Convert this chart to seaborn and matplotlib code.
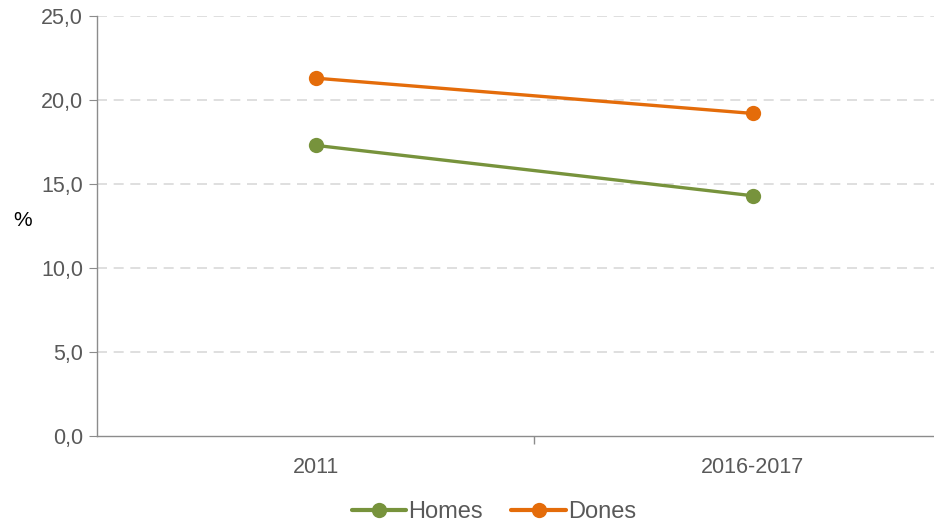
import matplotlib
matplotlib.use("Agg")
import matplotlib.pyplot as plt
import seaborn as sns
import pandas as pd

periodes = ["2011", "2016-2017"]
homes = [17.3, 14.3]
dones = [21.3, 19.2]
series = ["Homes", "Dones"]
colors = {"Homes": "#77933C", "Dones": "#E46C0A"}

df = pd.DataFrame({
    "periode": periodes * 2,
    "valor": homes + dones,
    "sexe": ["Homes"] * len(periodes) + ["Dones"] * len(periodes),
})

sns.set_style("white")
plt.rcParams["font.family"] = ["Liberation Sans", "DejaVu Sans"]

fig = plt.figure(figsize=(9.34, 5.23), dpi=100)
# the category axis runs past the right edge of the picture, like the original
ax = fig.add_axes([97 / 934, (523 - 436) / 523, 874.5 / 934, 420 / 523])

sns.lineplot(data=df, x="periode", y="valor", hue="sexe", hue_order=series,
             palette=colors, marker="o", markersize=11, markeredgewidth=0,
             linewidth=2.4, ax=ax, legend=False)

ax.set_xlim(-0.5, 1.5)
ax.set_ylim(0, 25)
ax.set_yticks([0, 5, 10, 15, 20, 25])
ax.set_yticklabels([f"{v:.1f}".replace(".", ",") for v in [0, 5, 10, 15, 20, 25]])
ax.set_xticks([0, 1])
ax.set_xticklabels(periodes)
ax.set_xticks([0.5], minor=True)

for y in [5, 10, 15, 20, 25]:
    ax.axhline(y, color="#D9D9D9", linestyle=(0, (6, 4)), linewidth=1.2, zorder=0)

for s in ["top", "right"]:
    ax.spines[s].set_visible(False)
for s in ["left", "bottom"]:
    ax.spines[s].set_color("#8C8C8C")
    ax.spines[s].set_linewidth(1.0)

ax.tick_params(axis="y", which="major", left=True, length=6, color="#8C8C8C",
               labelsize=15.5, labelcolor="#595959", pad=4)
ax.tick_params(axis="x", which="major", bottom=True, length=0, labelsize=15.5,
               labelcolor="#595959", pad=15)
ax.tick_params(axis="x", which="minor", bottom=True, length=6, width=1,
               color="#8C8C8C", direction="out")

ax.set_xlabel("")
ax.set_ylabel("%", rotation=0, fontsize=15, color="black")
ax.yaxis.set_label_coords(-0.085, 0.49)

handles = [plt.Line2D([], [], color=colors[s], marker="o", markersize=11,
                      markeredgewidth=0, linewidth=3) for s in series]
fig.legend(handles, series, loc="center", bbox_to_anchor=(494 / 934, 11 / 523),
           ncol=2, frameon=False, fontsize=17, handlelength=2.3,
           handletextpad=0.1, columnspacing=1.2, labelcolor="#595959")

fig.savefig("out.png", dpi=100)
